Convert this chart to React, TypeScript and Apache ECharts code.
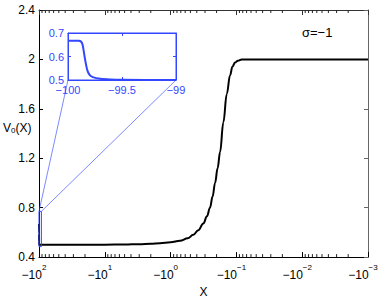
import React, { useEffect, useRef } from "react";
import * as echarts from "echarts";

// Main curve V0(X), X negative
const mainX = [-100, -99.87, -99.84, -99.81, -99.7, -99.5, -90, -30, -10, -5, -3, -2, -1.45, -1, -0.72, -0.55, -0.452, -0.38, -0.318, -0.28, -0.252, -0.23, -0.211, -0.193, -0.177, -0.158, -0.14, -0.125, -0.115, -0.105, -0.095, -0.083, -0.06, -0.001];
const mainY = [0.667, 0.667, 0.59, 0.524, 0.51, 0.501, 0.5, 0.5, 0.5, 0.502, 0.505, 0.508, 0.513, 0.52, 0.532, 0.552, 0.58, 0.618, 0.672, 0.73, 0.8, 0.89, 1.0, 1.12, 1.25, 1.49, 1.72, 1.87, 1.94, 1.975, 1.99, 2.0, 2.0, 2.0];

// Inset curve
const insetX = [-100, -99.9, -99.88, -99.865, -99.85, -99.835, -99.82, -99.8, -99.77, -99.7, -99.6, -99.5, -99];
const insetY = [0.667, 0.667, 0.664, 0.65, 0.61, 0.57, 0.54, 0.522, 0.512, 0.505, 0.502, 0.501, 0.5];

// Zoom box in main plot
const boxX = [-100, -92];
const boxY = [0.485, 0.77];

const mainYTicks = { min: 0.4, max: 2.4, interval: 0.4 };
const decades = [-2, -1, 0, 1, 2, 3]; // t = -log10(|x|)
const insetXRange = { min: -100, max: -99, interval: 0.5 };
const insetYRange = { min: 0.5, max: 0.7, interval: 0.1 };
const sigmaLabel = "σ=−1";

const toT = (x: number) => -Math.log10(-x);
const BLUE = "#3347ff";
const FONT = "Liberation Sans";

export default function App() {
  const ref = useRef<HTMLDivElement>(null);
  useEffect(() => {
    if (!ref.current) return;
    const chart = echarts.init(ref.current, undefined, { renderer: "svg" });
    const minor: number[] = [];
    for (let e = -3; e <= 1; e++) {
      for (let m = 2; m <= 9; m++) minor.push(-Math.log10(m * Math.pow(10, e)));
    }
    const tMin = decades[0];
    const tMax = decades[decades.length - 1];
    const bx0 = toT(boxX[0]), bx1 = toT(boxX[1]);
    const noZero = { onZero: false };
    chart.setOption({
      animation: false,
      backgroundColor: "#fff",
      textStyle: { fontFamily: FONT },
      grid: [
        { left: 39, top: 10, width: 329, height: 259 },
        { left: 68, top: 33, width: 108, height: 47, show: true, backgroundColor: "#fff", borderColor: BLUE, borderWidth: 1, z: 5 },
      ],
      xAxis: [
        {
          type: "value", gridIndex: 0, position: "bottom", min: tMin, max: tMax, interval: 1,
          axisLine: { show: true, ...noZero, lineStyle: { color: "#000", width: 1 } },
          axisTick: { show: true, inside: true, length: 5, lineStyle: { color: "#000" } },
          splitLine: { show: false },
          axisLabel: {
            margin: 6, padding: [0, 10, 0, 0],
            formatter: (v: number) => {
              const e = Math.round(-v);
              return `{b|−10}{s|${e < 0 ? "−" + -e : e}}`;
            },
            rich: {
              b: { fontSize: 12, color: "#000", fontFamily: FONT, lineHeight: 18, verticalAlign: "bottom" },
              s: { fontSize: 8, color: "#000", fontFamily: FONT, lineHeight: 10, verticalAlign: "top" },
            },
          },
          name: "X", nameLocation: "middle", nameGap: 26,
          nameTextStyle: { fontSize: 12, color: "#000", fontFamily: FONT },
        },
        {
          type: "value", gridIndex: 0, position: "top", min: tMin, max: tMax, interval: 1,
          axisLine: { show: true, ...noZero, lineStyle: { color: "#333", width: 1 } },
          axisTick: { show: true, inside: true, length: 5, lineStyle: { color: "#333" } },
          axisLabel: { show: false }, splitLine: { show: false },
        },
        {
          type: "value", gridIndex: 1, position: "bottom", ...insetXRange,
          axisLine: { show: true, ...noZero, lineStyle: { color: BLUE } },
          axisTick: { show: true, inside: true, length: 3, lineStyle: { color: BLUE } },
          splitLine: { show: false },
          axisLabel: {
            margin: 4, fontSize: 11, color: BLUE, fontFamily: FONT,
            formatter: (v: number) => String(v).replace("-", "−"),
          },
          z: 6,
        },
        {
          type: "value", gridIndex: 1, position: "top", ...insetXRange,
          axisLine: { show: true, ...noZero, lineStyle: { color: BLUE } },
          axisTick: { show: true, inside: true, length: 3, lineStyle: { color: BLUE } },
          axisLabel: { show: false }, splitLine: { show: false }, z: 6,
        },
      ],
      yAxis: [
        {
          type: "value", gridIndex: 0, position: "left", ...mainYTicks,
          axisLine: { show: true, ...noZero, lineStyle: { color: "#000" } },
          axisTick: { show: true, inside: true, length: 4, lineStyle: { color: "#000" } },
          splitLine: { show: false },
          axisLabel: { margin: 4, fontSize: 12, color: "#000", fontFamily: FONT },
        },
        {
          type: "value", gridIndex: 0, position: "right", ...mainYTicks,
          axisLine: { show: true, ...noZero, lineStyle: { color: "#666" } },
          axisTick: { show: true, inside: true, length: 4, lineStyle: { color: "#666" } },
          splitLine: { show: false }, axisLabel: { show: false },
        },
        {
          type: "value", gridIndex: 1, position: "left", ...insetYRange,
          axisLine: { show: true, ...noZero, lineStyle: { color: BLUE } },
          axisTick: { show: true, inside: true, length: 3, lineStyle: { color: BLUE } },
          splitLine: { show: false },
          axisLabel: { margin: 4, fontSize: 11, color: BLUE, fontFamily: FONT },
          z: 6,
        },
        {
          type: "value", gridIndex: 1, position: "right", ...insetYRange,
          axisLine: { show: true, ...noZero, lineStyle: { color: BLUE } },
          axisTick: { show: true, inside: true, length: 3, lineStyle: { color: BLUE } },
          splitLine: { show: false }, axisLabel: { show: false }, z: 6,
        },
      ],
      series: [
        {
          type: "line", xAxisIndex: 0, yAxisIndex: 0, showSymbol: false, smooth: 0.4, smoothMonotone: "x",
          lineStyle: { color: "#000", width: 2 },
          data: mainX.map((x, i) => [toT(x), mainY[i]]),
          z: 3,
        },
        {
          type: "line", xAxisIndex: 0, yAxisIndex: 0, showSymbol: false,
          lineStyle: { color: BLUE, width: 1 },
          data: [[bx0, boxY[0]], [bx1, boxY[0]], [bx1, boxY[1]], [bx0, boxY[1]], [bx0, boxY[0]]],
          z: 4,
        },
        {
          type: "line", xAxisIndex: 2, yAxisIndex: 2, showSymbol: false, smooth: 0.3,
          lineStyle: { color: BLUE, width: 2 },
          data: insetX.map((x, i) => [x, insetY[i]]),
          z: 7,
        },
        {
          // minor log ticks (bottom and top, pointing inward)
          type: "custom", coordinateSystem: "cartesian2d", xAxisIndex: 0, yAxisIndex: 0, silent: true, z: 2, clip: false,
          encode: { x: 0, y: 1 },
          data: minor.map((t) => [t, mainYTicks.min]),
          renderItem: (params: any, api: any) => {
            const t = api.value(0);
            const pb = api.coord([t, mainYTicks.min]);
            const pt = api.coord([t, mainYTicks.max]);
            const style = { stroke: "#222", lineWidth: 1 };
            return {
              type: "group",
              children: [
                { type: "line", shape: { x1: pb[0], y1: pb[1], x2: pb[0], y2: pb[1] - 3 }, style },
                { type: "line", shape: { x1: pt[0], y1: pt[1], x2: pt[0], y2: pt[1] + 3 }, style },
              ],
            };
          },
        },
      ],
    });
    const pA = chart.convertToPixel({ xAxisIndex: 0, yAxisIndex: 0 }, [bx0, boxY[1]]) as number[];
    const pB = chart.convertToPixel({ xAxisIndex: 0, yAxisIndex: 0 }, [bx1, boxY[1]]) as number[];
    const pC = chart.convertToPixel({ xAxisIndex: 2, yAxisIndex: 2 }, [insetXRange.min, insetYRange.min]) as number[];
    const pD = chart.convertToPixel({ xAxisIndex: 2, yAxisIndex: 2 }, [insetXRange.max, insetYRange.min]) as number[];
    chart.setOption({
      graphic: [
        { type: "line", shape: { x1: pA[0], y1: pA[1], x2: pC[0], y2: pC[1] }, style: { stroke: BLUE, lineWidth: 0.8, opacity: 0.8 }, z: 4 },
        { type: "line", shape: { x1: pB[0], y1: pB[1], x2: pD[0], y2: pD[1] }, style: { stroke: BLUE, lineWidth: 0.8, opacity: 0.8 }, z: 4 },
        {
          type: "text", left: 3, top: 120, z: 10,
          style: {
            text: "V{s|0}(X)", fontSize: 12, fill: "#000", fontFamily: FONT,
            rich: { s: { fontSize: 8, fill: "#000", fontFamily: FONT, verticalAlign: "bottom", lineHeight: 8, padding: [6, 0, 0, 0] } },
          },
        },
        { type: "text", left: 302, top: 26, z: 10, style: { text: sigmaLabel, fontSize: 13, fill: "#000", fontFamily: FONT } },
      ],
    });
    return () => chart.dispose();
  }, []);
  return <div ref={ref} style={{ position: "fixed", left: 0, top: 0, width: 382, height: 303 }} />;
}
